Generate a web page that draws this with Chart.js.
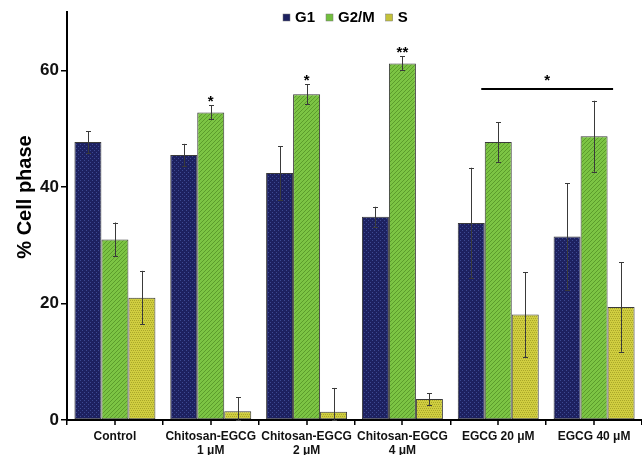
<!DOCTYPE html>
<html>
<head>
<meta charset="utf-8">
<script src="https://cdn.jsdelivr.net/npm/chart.js@4/dist/chart.umd.min.js"></script>
<style>
  body { margin: 0; background: #fff; }
</style>
</head>
<body>
<canvas id="phaseChart" width="642" height="455"></canvas>
<script>
// Data
const categories = [
  ['Control'],
  ['Chitosan-EGCG', '1 μM'],
  ['Chitosan-EGCG', '2 μM'],
  ['Chitosan-EGCG', '4 μM'],
  ['EGCG 20 μM'],
  ['EGCG 40 μM']
];
const seriesNames = ['G1', 'G2/M', 'S'];
const g1Values = [47.7, 45.5, 42.4, 34.9, 33.8, 31.5];
const g1Errors = [1.9, 1.9, 4.6, 1.7, 9.5, 9.1];
const g2mValues = [31.0, 52.8, 55.9, 61.2, 47.7, 48.7];
const g2mErrors = [2.9, 1.2, 1.7, 1.2, 3.4, 6.1];
const sValues = [21.0, 1.5, 1.4, 3.6, 18.1, 19.4];
const sErrors = [4.6, 2.4, 4.1, 1.0, 7.3, 7.7];
const yTicks = [0, 20, 40, 60];
// significance marks: [dataset, category, label]
const sigMarks = [[1, 1, '*'], [1, 2, '*'], [1, 3, '**']];
const sigBarValue = 56.8;

const FONT = '"Liberation Sans", Arial, sans-serif';

function makePattern(base, mark, kind) {
  const c = document.createElement('canvas');
  c.width = 4; c.height = 4;
  const g = c.getContext('2d');
  g.fillStyle = base;
  g.fillRect(0, 0, 4, 4);
  g.fillStyle = mark;
  if (kind === 'dots') {
    g.fillRect(0, 0, 1, 1); g.fillRect(2, 2, 1, 1);
  } else if (kind === 'diag') {
    for (let i = 0; i < 4; i++) g.fillRect(i, 3 - i, 1, 1);
  } else {
    g.fillRect(0, 0, 1, 1); g.fillRect(2, 0, 1, 1);
    g.fillRect(1, 2, 1, 1); g.fillRect(3, 2, 1, 1);
  }
  return document.getElementById('phaseChart').getContext('2d').createPattern(c, 'repeat');
}

const legendColors = ['#1d2160', '#72bf3e', '#c4c23a'];
const fills = [
  makePattern('#1d2160', '#3d4a92', 'dots'),
  makePattern('#7cc444', '#5c9c2c', 'diag'),
  makePattern('#d0ce40', '#a9a72a', 'check')
];
const errors = [g1Errors, g2mErrors, sErrors];

const extras = {
  id: 'extras',
  afterDatasetsDraw(chart) {
    const ctx = chart.ctx;
    const y = chart.scales.y;
    const x = chart.scales.x;
    ctx.save();
    // error bars
    ctx.strokeStyle = '#3a3a3a';
    ctx.lineWidth = 1;
    chart.data.datasets.forEach((ds, i) => {
      chart.getDatasetMeta(i).data.forEach((bar, j) => {
        const v = ds.data[j], e = errors[i][j];
        const top = y.getPixelForValue(v + e);
        const bot = y.getPixelForValue(Math.max(0, v - e));
        const bx = Math.round(bar.x) + 0.5;
        ctx.beginPath();
        ctx.moveTo(bx, top); ctx.lineTo(bx, bot);
        ctx.moveTo(bx - 2.5, Math.round(top) + 0.5); ctx.lineTo(bx + 2.5, Math.round(top) + 0.5);
        ctx.moveTo(bx - 2.5, Math.round(bot) + 0.5); ctx.lineTo(bx + 2.5, Math.round(bot) + 0.5);
        ctx.stroke();
      });
    });
    // significance stars
    ctx.fillStyle = '#000';
    ctx.font = 'bold 15px ' + FONT;
    ctx.textAlign = 'center';
    ctx.textBaseline = 'bottom';
    sigMarks.forEach(([d, c, label]) => {
      const bar = chart.getDatasetMeta(d).data[c];
      const v = chart.data.datasets[d].data[c] + errors[d][c];
      ctx.fillText(label, bar.x, y.getPixelForValue(v) + 4);
    });
    const ly = y.getPixelForValue(sigBarValue);
    const x1 = x.getPixelForValue(4) - 17, x2 = x.getPixelForValue(5) + 19;
    ctx.lineWidth = 2;
    ctx.strokeStyle = '#000';
    ctx.beginPath();
    ctx.moveTo(x1, ly); ctx.lineTo(x2, ly);
    ctx.stroke();
    ctx.fillText('*', (x1 + x2) / 2, ly - 1);
    // centre ticks on x axis
    ctx.lineWidth = 1.5;
    categories.forEach((_, i) => {
      const px = Math.round(x.getPixelForValue(i));
      ctx.beginPath();
      ctx.moveTo(px, y.bottom); ctx.lineTo(px, y.bottom + 5);
      ctx.stroke();
    });
    // y title
    ctx.save();
    ctx.translate(25, 197);
    ctx.rotate(-Math.PI / 2);
    ctx.font = 'bold 20px ' + FONT;
    ctx.textBaseline = 'middle';
    ctx.fillText('% Cell phase', 0, 0);
    ctx.restore();
    // legend
    ctx.font = 'bold 15px ' + FONT;
    ctx.textAlign = 'left';
    ctx.textBaseline = 'middle';
    let lx = 283;
    seriesNames.forEach((name, i) => {
      ctx.fillStyle = legendColors[i];
      ctx.fillRect(lx, 14, 7, 7);
      ctx.strokeStyle = '#777';
      ctx.lineWidth = 0.5;
      ctx.strokeRect(lx, 14, 7, 7);
      ctx.fillStyle = '#000';
      ctx.fillText(name, lx + 12, 18);
      lx += 12 + ctx.measureText(name).width + 11;
    });
    ctx.restore();
  }
};

new Chart(document.getElementById('phaseChart'), {
  type: 'bar',
  data: {
    labels: categories,
    datasets: [
      { label: seriesNames[0], data: g1Values, backgroundColor: fills[0] },
      { label: seriesNames[1], data: g2mValues, backgroundColor: fills[1] },
      { label: seriesNames[2], data: sValues, backgroundColor: fills[2] }
    ]
  },
  options: {
    responsive: false,
    animation: false,
    layout: { padding: { top: 10, right: 0, left: 0, bottom: 0 } },
    datasets: {
      bar: {
        categoryPercentage: 0.845,
        barPercentage: 1,
        borderColor: '#3a3a3a',
        borderWidth: 1,
        borderSkipped: false
      }
    },
    plugins: {
      legend: { display: false },
      tooltip: { enabled: false }
    },
    scales: {
      x: {
        afterFit: s => { s.height = 35; },
        border: { color: '#000', width: 2 },
        grid: { offset: true, drawOnChartArea: false, tickLength: 5, color: '#000', lineWidth: 1.5 },
        ticks: {
          color: '#111',
          font: { family: FONT, size: 12, weight: 'bold' },
          padding: 4,
          maxRotation: 0,
          autoSkip: false
        }
      },
      y: {
        min: 0,
        max: 70,
        afterFit: s => { s.width = 67; },
        afterBuildTicks: s => { s.ticks = yTicks.map(v => ({ value: v })); },
        border: { color: '#000', width: 2 },
        grid: { drawOnChartArea: false, tickLength: 6, color: '#000', lineWidth: 1.5 },
        ticks: {
          color: '#111',
          font: { family: FONT, size: 17, weight: 'bold' },
          padding: 2
        }
      }
    }
  },
  plugins: [extras]
});
</script>
</body>
</html>
